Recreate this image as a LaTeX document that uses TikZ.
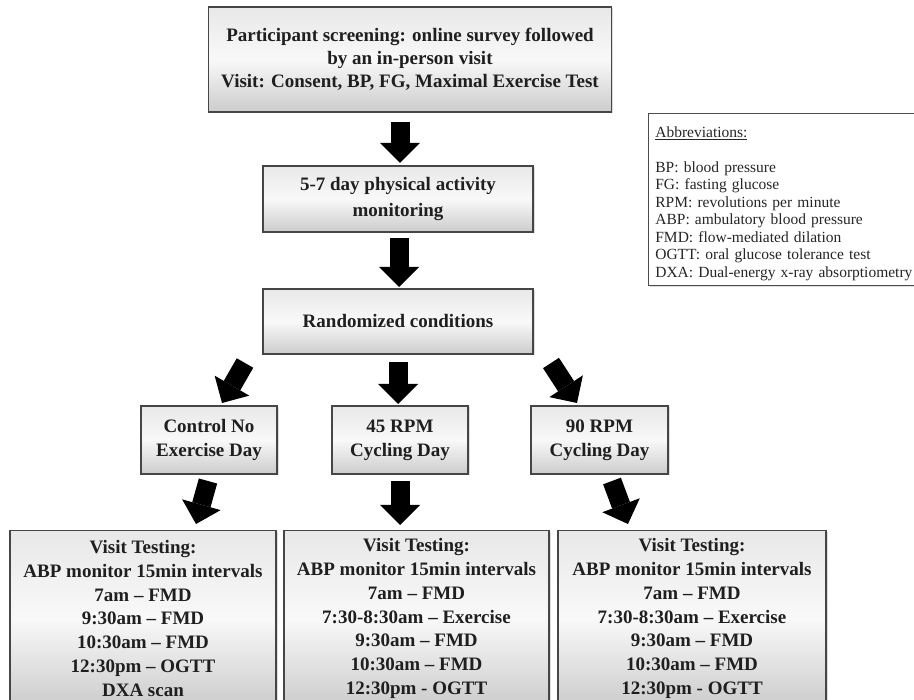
\documentclass[tikz,border=0pt]{standalone}
\usepackage{fontspec}
\setmainfont{Liberation Serif}
\usetikzlibrary{arrows.meta,shadows}
\begin{document}
\begin{tikzpicture}[x=1pt,y=-1pt,
  box/.style={draw=gray!55!black, line width=1.1pt, top color=gray!18, bottom color=gray!40, middle color=gray!5,
    align=center, text=black!88, inner sep=0pt,
    drop shadow={shadow xshift=1.5pt, shadow yshift=-1.5pt, fill=gray!55}},
  bigtxt/.style={font=\bfseries\fontsize{19}{#1}\selectfont},
  abbrbox/.style={draw=black!70, line width=0.7pt, fill=white, inner sep=0pt, text=black!85,
    drop shadow={shadow xshift=1.5pt, shadow yshift=-1.5pt, fill=gray!50},
    font=\fontsize{15.5}{17.5}\selectfont},
  blk/.style={line width=19pt, -{Triangle[length=20pt,width=40pt,line width=0pt]}, black},
]
\useasboundingbox (0,0) rectangle (914,700);
\clip (0,0) rectangle (914,700);

% main flow boxes
\node[box, bigtxt=23, minimum width=403pt, minimum height=105pt] (screen) at (410,59.5)
  {Participant screening: online survey followed\\by an in-person visit\\Visit: Consent, BP, FG, Maximal Exercise Test};
\node[box, bigtxt=26, minimum width=270pt, minimum height=66pt] (monitor) at (398,199)
  {5-7 day physical activity\\monitoring};
\node[box, bigtxt=24, minimum width=270pt, minimum height=65pt] (random) at (398,321.5)
  {Randomized conditions};

\node[box, bigtxt=24, minimum width=136pt, minimum height=68pt] (control) at (209,440)
  {Control No\\Exercise Day};
\node[box, bigtxt=24, minimum width=136pt, minimum height=68pt] (rpm45) at (400,440)
  {45 RPM\\Cycling Day};
\node[box, bigtxt=24, minimum width=137pt, minimum height=68pt] (rpm90) at (599.5,440)
  {90 RPM\\Cycling Day};

\node[box, bigtxt=23.7, minimum width=266pt, minimum height=176pt] (visit1) at (143,618.5)
  {Visit Testing:\\ABP monitor 15min intervals\\7am -- FMD\\9:30am -- FMD\\10:30am -- FMD\\12:30pm -- OGTT\\DXA scan};
\node[box, bigtxt=23.7, minimum width=265pt, minimum height=176pt] (visit2) at (416.5,618.5)
  {Visit Testing:\\ABP monitor 15min intervals\\7am -- FMD\\7:30-8:30am -- Exercise\\9:30am -- FMD\\10:30am -- FMD\\12:30pm - OGTT};
\node[box, bigtxt=23.7, minimum width=268pt, minimum height=176pt] (visit3) at (692,618.5)
  {Visit Testing:\\ABP monitor 15min intervals\\7am -- FMD\\7:30-8:30am -- Exercise\\9:30am -- FMD\\10:30am -- FMD\\12:30pm - OGTT};

% abbreviations
\node[abbrbox, anchor=north west, minimum width=290pt, minimum height=172pt, text width=276pt, align=left] (abbr) at (648,113)
  {\rule{0pt}{20pt}\underline{Abbreviations:}\\[17pt]
   BP: blood pressure\\
   FG: fasting glucose\\
   RPM: revolutions per minute\\
   ABP: ambulatory blood pressure\\
   FMD: flow-mediated dilation\\
   OGTT: oral glucose tolerance test\\
   DXA: Dual-energy x-ray absorptiometry};

% block arrows
\coordinate (a1s) at (400,122);  \coordinate (a1e) at (400,163);
\coordinate (a2s) at (399,238);  \coordinate (a2e) at (399,287);
\coordinate (a3ls) at (245,363); \coordinate (a3le) at (222,403);
\coordinate (a3ms) at (398,362); \coordinate (a3me) at (398,404);
\coordinate (a3rs) at (551,363); \coordinate (a3re) at (577,403);
\coordinate (a4ls) at (208,481); \coordinate (a4le) at (196,524);
\coordinate (a4ms) at (400,481); \coordinate (a4me) at (400,525);
\coordinate (a4rs) at (612,481); \coordinate (a4re) at (628,524);

\draw[blk] (a1s) -- (a1e);
\draw[blk] (a2s) -- (a2e);
\draw[blk] (a3ls) -- (a3le);
\draw[blk] (a3ms) -- (a3me);
\draw[blk] (a3rs) -- (a3re);
\draw[blk] (a4ls) -- (a4le);
\draw[blk] (a4ms) -- (a4me);
\draw[blk] (a4rs) -- (a4re);
\end{tikzpicture}
\end{document}
